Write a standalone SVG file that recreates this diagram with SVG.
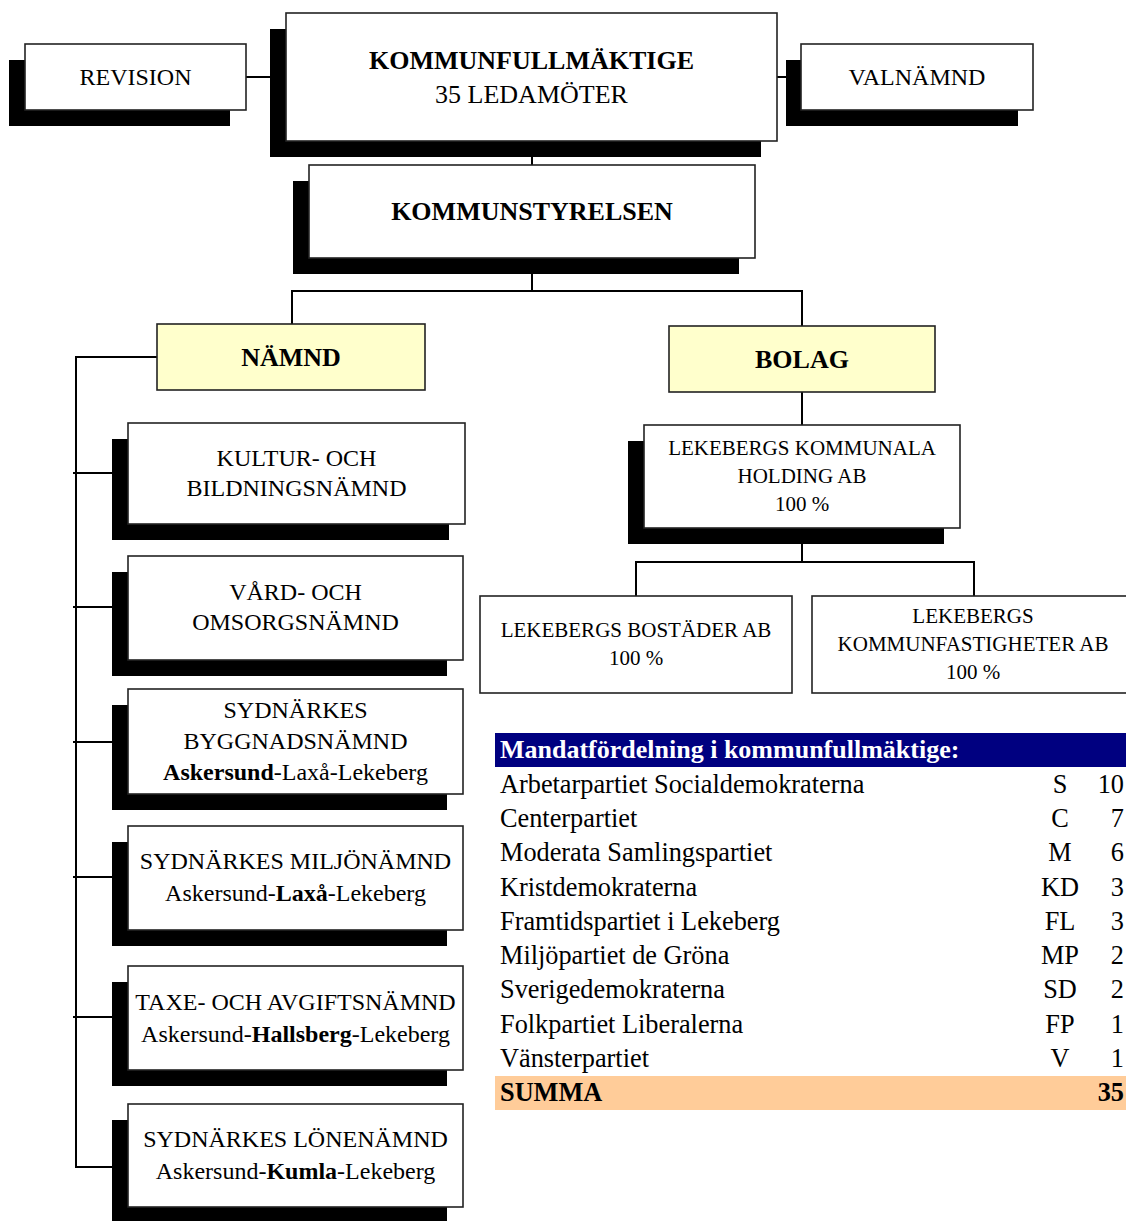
<svg xmlns="http://www.w3.org/2000/svg" width="1126" height="1221" viewBox="0 0 1126 1221">
<style>
.bg{fill:#ffffff}
.sh{fill:#000000}
.box{fill:#ffffff;stroke:#222222;stroke-width:1.6}
.ybox{fill:#ffffcc;stroke:#222222;stroke-width:1.6}
.t{font-family:"Liberation Serif","Times New Roman",serif;font-size:24px;fill:#000;text-anchor:middle}
.tb{font-family:"Liberation Serif","Times New Roman",serif;font-size:26px;font-weight:bold;fill:#000;text-anchor:middle}
.ts{font-family:"Liberation Serif","Times New Roman",serif;font-size:21px;fill:#000;text-anchor:middle}
.b{font-weight:bold}
.conn line{stroke:#000;stroke-width:2}
.row{font-family:"Liberation Serif","Times New Roman",serif;font-size:26.3px;fill:#000}
.hdr{font-family:"Liberation Serif","Times New Roman",serif;font-size:26px;font-weight:bold;fill:#fff}
</style>
<rect class="bg" x="0" y="0" width="1126" height="1221"/>

<g id="connectors" class="conn">
  <line x1="246" y1="77" x2="286" y2="77"/>
  <line x1="777" y1="77" x2="801" y2="77"/>
  <line x1="532" y1="141" x2="532" y2="165"/>
  <line x1="532" y1="258" x2="532" y2="291"/>
  <line x1="291" y1="291" x2="803" y2="291"/>
  <line x1="292" y1="291" x2="292" y2="324"/>
  <line x1="802" y1="291" x2="802" y2="326"/>
  <line x1="157" y1="357" x2="76" y2="357"/>
  <line x1="76" y1="356" x2="76" y2="1168"/>
  <line x1="73" y1="473" x2="112" y2="473"/>
  <line x1="73" y1="607" x2="112" y2="607"/>
  <line x1="73" y1="742" x2="112" y2="742"/>
  <line x1="73" y1="877" x2="112" y2="877"/>
  <line x1="73" y1="1017" x2="112" y2="1017"/>
  <line x1="76" y1="1167" x2="112" y2="1167"/>
  <line x1="802" y1="392" x2="802" y2="425"/>
  <line x1="802" y1="528" x2="802" y2="562"/>
  <line x1="635" y1="562" x2="975" y2="562"/>
  <line x1="636" y1="562" x2="636" y2="596"/>
  <line x1="974" y1="562" x2="974" y2="596"/>
</g>

<g id="revision">
  <rect class="sh" x="9" y="60" width="221" height="66"/>
  <rect class="box" x="25" y="44" width="221" height="66"/>
  <text class="t" x="135.5" y="85">REVISION</text>
</g>

<g id="kommunfullmaktige">
  <rect class="sh" x="270" y="29" width="491" height="128"/>
  <rect class="box" x="286" y="13" width="491" height="128"/>
  <text class="tb" x="531.5" y="69">KOMMUNFULLMÄKTIGE</text>
  <text class="t" x="531.5" y="103" style="font-size:26px">35 LEDAMÖTER</text>
</g>

<g id="valnamnd">
  <rect class="sh" x="786" y="60" width="232" height="66"/>
  <rect class="box" x="801" y="44" width="232" height="66"/>
  <text class="t" x="917" y="85">VALNÄMND</text>
</g>

<g id="kommunstyrelsen">
  <rect class="sh" x="293" y="181" width="446" height="93"/>
  <rect class="box" x="309" y="165" width="446" height="93"/>
  <text class="tb" x="532" y="220">KOMMUNSTYRELSEN</text>
</g>

<g id="namnd">
  <rect class="ybox" x="157" y="324" width="268" height="66"/>
  <text class="tb" x="291" y="366">NÄMND</text>
</g>

<g id="bolag">
  <rect class="ybox" x="669" y="326" width="266" height="66"/>
  <text class="tb" x="802" y="368">BOLAG</text>
</g>

<g id="kultur">
  <rect class="sh" x="112" y="439" width="337" height="101"/>
  <rect class="box" x="128" y="423" width="337" height="101"/>
  <text class="t" x="296.5" y="466">KULTUR- OCH</text>
  <text class="t" x="296.5" y="496">BILDNINGSNÄMND</text>
</g>

<g id="vard">
  <rect class="sh" x="112" y="572" width="335" height="104"/>
  <rect class="box" x="128" y="556" width="335" height="104"/>
  <text class="t" x="295.5" y="600">VÅRD- OCH</text>
  <text class="t" x="295.5" y="630">OMSORGSNÄMND</text>
</g>

<g id="bygg">
  <rect class="sh" x="112" y="705" width="335" height="105"/>
  <rect class="box" x="128" y="689" width="335" height="105"/>
  <text class="t" x="295.5" y="718">SYDNÄRKES</text>
  <text class="t" x="295.5" y="749">BYGGNADSNÄMND</text>
  <text class="t" x="295.5" y="780"><tspan class="b">Askersund</tspan>-Laxå-Lekeberg</text>
</g>

<g id="miljo">
  <rect class="sh" x="112" y="842" width="335" height="104"/>
  <rect class="box" x="128" y="826" width="335" height="104"/>
  <text class="t" x="295.5" y="869">SYDNÄRKES MILJÖNÄMND</text>
  <text class="t" x="295.5" y="901">Askersund-<tspan class="b">Laxå</tspan>-Lekeberg</text>
</g>

<g id="taxe">
  <rect class="sh" x="112" y="982" width="335" height="104"/>
  <rect class="box" x="128" y="966" width="335" height="104"/>
  <text class="t" x="295.5" y="1010">TAXE- OCH AVGIFTSNÄMND</text>
  <text class="t" x="295.5" y="1042">Askersund-<tspan class="b">Hallsberg</tspan>-Lekeberg</text>
</g>

<g id="lone">
  <rect class="sh" x="112" y="1120" width="335" height="103"/>
  <rect class="box" x="128" y="1104" width="335" height="103"/>
  <text class="t" x="295.5" y="1147">SYDNÄRKES LÖNENÄMND</text>
  <text class="t" x="295.5" y="1179">Askersund-<tspan class="b">Kumla</tspan>-Lekeberg</text>
</g>

<g id="holding">
  <rect class="sh" x="628" y="441" width="316" height="103"/>
  <rect class="box" x="644" y="425" width="316" height="103"/>
  <text class="ts" x="802" y="455">LEKEBERGS KOMMUNALA</text>
  <text class="ts" x="802" y="483">HOLDING AB</text>
  <text class="ts" x="802" y="511">100 %</text>
</g>

<g id="bostader">
  <rect class="box" x="480" y="596" width="312" height="97"/>
  <text class="ts" x="636" y="637">LEKEBERGS BOSTÄDER AB</text>
  <text class="ts" x="636" y="665">100 %</text>
</g>

<g id="kommunfastigheter">
  <rect class="box" x="812" y="596" width="322" height="97"/>
  <text class="ts" x="973" y="623">LEKEBERGS</text>
  <text class="ts" x="973" y="651">KOMMUNFASTIGHETER AB</text>
  <text class="ts" x="973" y="679">100 %</text>
</g>

<g id="mandat">
  <rect x="495" y="733" width="640" height="34" fill="#000080"/>
  <text class="hdr" x="500" y="758">Mandatfördelning i kommunfullmäktige:</text>
  <rect x="495" y="1076" width="640" height="34" fill="#ffcc99"/>
  <g class="row">
    <text x="500" y="793">Arbetarpartiet Socialdemokraterna</text>
    <text x="500" y="827">Centerpartiet</text>
    <text x="500" y="861">Moderata Samlingspartiet</text>
    <text x="500" y="896">Kristdemokraterna</text>
    <text x="500" y="930">Framtidspartiet i Lekeberg</text>
    <text x="500" y="964">Miljöpartiet de Gröna</text>
    <text x="500" y="998">Sverigedemokraterna</text>
    <text x="500" y="1033">Folkpartiet Liberalerna</text>
    <text x="500" y="1067">Vänsterpartiet</text>
    <text x="500" y="1101" font-weight="bold">SUMMA</text>
  </g>
  <g class="row" text-anchor="middle">
    <text x="1060" y="793">S</text>
    <text x="1060" y="827">C</text>
    <text x="1060" y="861">M</text>
    <text x="1060" y="896">KD</text>
    <text x="1060" y="930">FL</text>
    <text x="1060" y="964">MP</text>
    <text x="1060" y="998">SD</text>
    <text x="1060" y="1033">FP</text>
    <text x="1060" y="1067">V</text>
  </g>
  <g class="row" text-anchor="end">
    <text x="1124" y="793">10</text>
    <text x="1124" y="827">7</text>
    <text x="1124" y="861">6</text>
    <text x="1124" y="896">3</text>
    <text x="1124" y="930">3</text>
    <text x="1124" y="964">2</text>
    <text x="1124" y="998">2</text>
    <text x="1124" y="1033">1</text>
    <text x="1124" y="1067">1</text>
    <text x="1124" y="1101" font-weight="bold">35</text>
  </g>
</g>
</svg>
